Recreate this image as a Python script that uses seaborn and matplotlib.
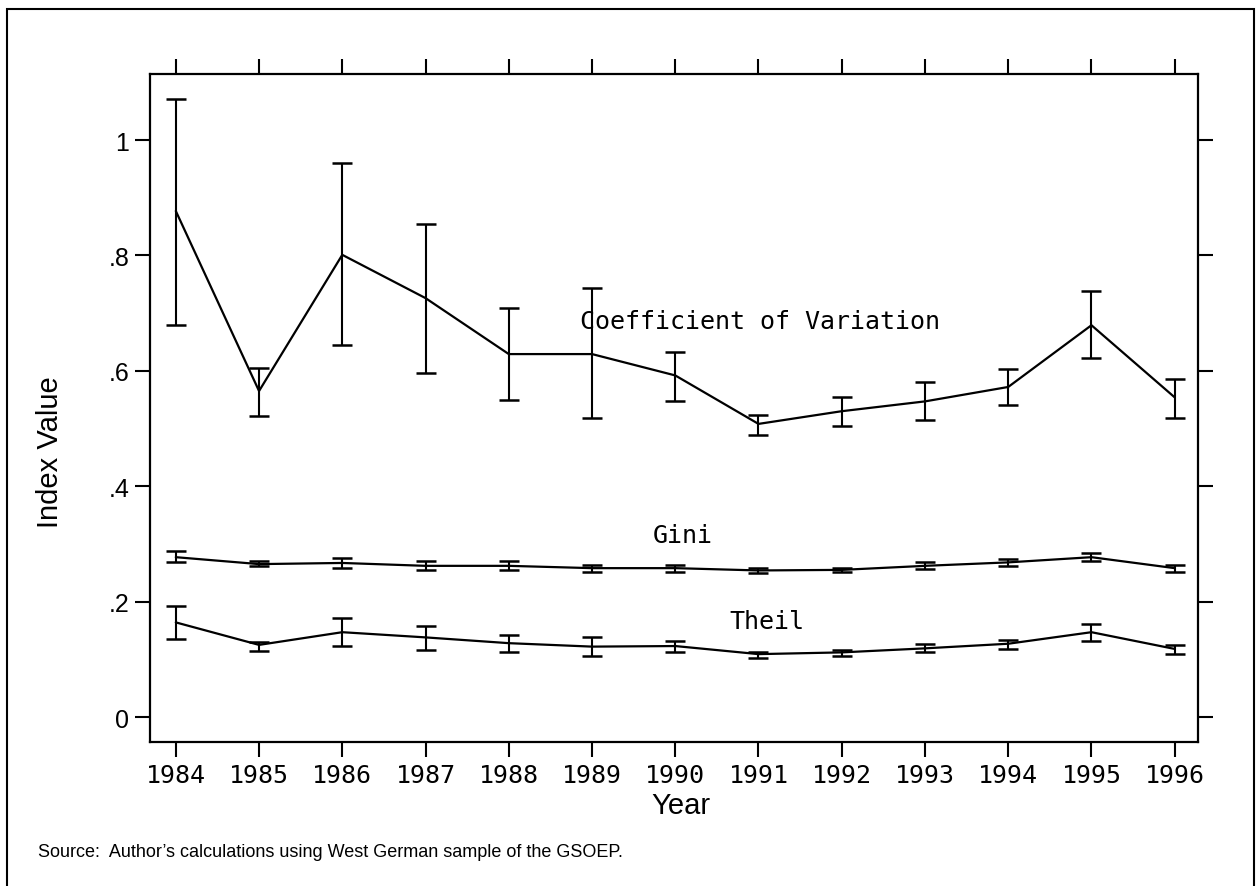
import numpy as np
import pandas as pd
import matplotlib
matplotlib.use('Agg')
import matplotlib.pyplot as plt
import seaborn as sns
from matplotlib.patches import Rectangle

# values (point estimate, lower and upper bound)
years = list(range(1984, 1997))

cv = [0.877, 0.565, 0.801, 0.726, 0.629, 0.629, 0.592, 0.508, 0.530, 0.547, 0.572, 0.679, 0.554]
cv_lo = [0.679, 0.521, 0.645, 0.596, 0.550, 0.518, 0.547, 0.489, 0.505, 0.514, 0.541, 0.623, 0.519]
cv_hi = [1.071, 0.605, 0.960, 0.854, 0.708, 0.743, 0.633, 0.524, 0.554, 0.581, 0.604, 0.739, 0.586]

gini = [0.277, 0.265, 0.267, 0.262, 0.262, 0.258, 0.258, 0.254, 0.255, 0.262, 0.268, 0.277, 0.258]
gini_lo = [0.268, 0.261, 0.258, 0.254, 0.255, 0.251, 0.252, 0.250, 0.251, 0.256, 0.262, 0.270, 0.252]
gini_hi = [0.287, 0.270, 0.275, 0.270, 0.270, 0.263, 0.263, 0.258, 0.259, 0.268, 0.273, 0.284, 0.263]

theil = [0.164, 0.125, 0.147, 0.138, 0.128, 0.122, 0.123, 0.109, 0.112, 0.119, 0.127, 0.147, 0.118]
theil_lo = [0.135, 0.115, 0.123, 0.117, 0.113, 0.106, 0.113, 0.103, 0.106, 0.112, 0.118, 0.132, 0.109]
theil_hi = [0.193, 0.130, 0.172, 0.157, 0.142, 0.138, 0.132, 0.113, 0.117, 0.127, 0.134, 0.161, 0.125]

series_names = ['Coefficient of Variation', 'Gini', 'Theil']
# label anchors (year, value) for the in-plot series labels
label_pos = [(1988.85, 0.686), (1989.73, 0.315), (1990.65, 0.166)]

ytick_vals = [0, 0.2, 0.4, 0.6, 0.8, 1.0]
ytick_labels = ['0', '.2', '.4', '.6', '.8', '1']

MONO = ['DejaVu Sans Mono']
SANS = ['Liberation Sans', 'DejaVu Sans']


def build_frame():
    rows = []
    for name, mid, lo, hi in zip(series_names, [cv, gini, theil], [cv_lo, gini_lo, theil_lo], [cv_hi, gini_hi, theil_hi]):
        for y, m, l, h in zip(years, mid, lo, hi):
            rows.append({'year': y, 'index': name, 'value': m, 'lo': l, 'hi': h})
    return pd.DataFrame(rows)


def main():
    sns.set_style('ticks')
    plt.rcParams['font.family'] = SANS
    plt.rcParams['text.color'] = 'black'
    plt.rcParams['axes.labelcolor'] = 'black'
    df = build_frame()

    fig = plt.figure(figsize=(12.58, 8.87), dpi=100)
    ax = fig.add_axes([150 / 1258, 1 - 743 / 887, 1048 / 1258, 668 / 887])

    sns.lineplot(data=df, x='year', y='value', hue='index', palette=['black'] * 3,
                 linewidth=1.6, legend=False, ax=ax)
    for name, g in df.groupby('index'):
        ax.errorbar(g['year'], g['value'], yerr=[g['value'] - g['lo'], g['hi'] - g['value']],
                    fmt='none', ecolor='black', elinewidth=1.5, capsize=7, capthick=1.8)

    for name, (x, y) in zip(series_names, label_pos):
        ax.text(x, y, name, family=MONO, fontsize=18, ha='left', va='center', color='black')

    ax.set_xlim(1983.69, 1996.28)
    ax.set_ylim(-0.0433, 1.1144)
    ax.set_xticks(years)
    ax.set_xticklabels([str(y) for y in years], family=MONO, fontsize=18)
    ax.set_yticks(ytick_vals)
    ax.set_yticklabels(ytick_labels, family=SANS, fontsize=18)
    ax.tick_params(axis='both', direction='out', length=11, width=1.5, colors='black',
                   labelcolor='black', top=True, right=True, labeltop=False, labelright=False)
    ax.tick_params(axis='x', pad=4)
    ax.tick_params(axis='y', pad=4)
    for sp in ax.spines.values():
        sp.set_visible(True)
        sp.set_linewidth(1.6)
        sp.set_color('black')

    ax.set_xlabel('Year', fontsize=21, color='black')
    ax.set_ylabel('Index Value', fontsize=21, color='black')
    ax.xaxis.label.set_va('center')
    ax.yaxis.label.set_va('center')
    ax.xaxis.set_label_coords(0.5067, -0.095)
    ax.yaxis.set_label_coords(-0.0954, 0.4356)

    fig.text(38 / 1258, 1 - 853 / 887, "Source:  Author\u2019s calculations using West German sample of the GSOEP.",
             fontsize=13, va='center', ha='left', color='black')

    # outer frame around the whole graph
    fig.patches.append(Rectangle((7 / 1258, -0.02), 1247 / 1258, 1.02 - 10 / 887,
                                 transform=fig.transFigure, fill=False, lw=1.5,
                                 edgecolor='black', clip_on=False))

    fig.savefig('out.png', dpi=100, facecolor='white')
    plt.close(fig)


if __name__ == '__main__':
    main()
